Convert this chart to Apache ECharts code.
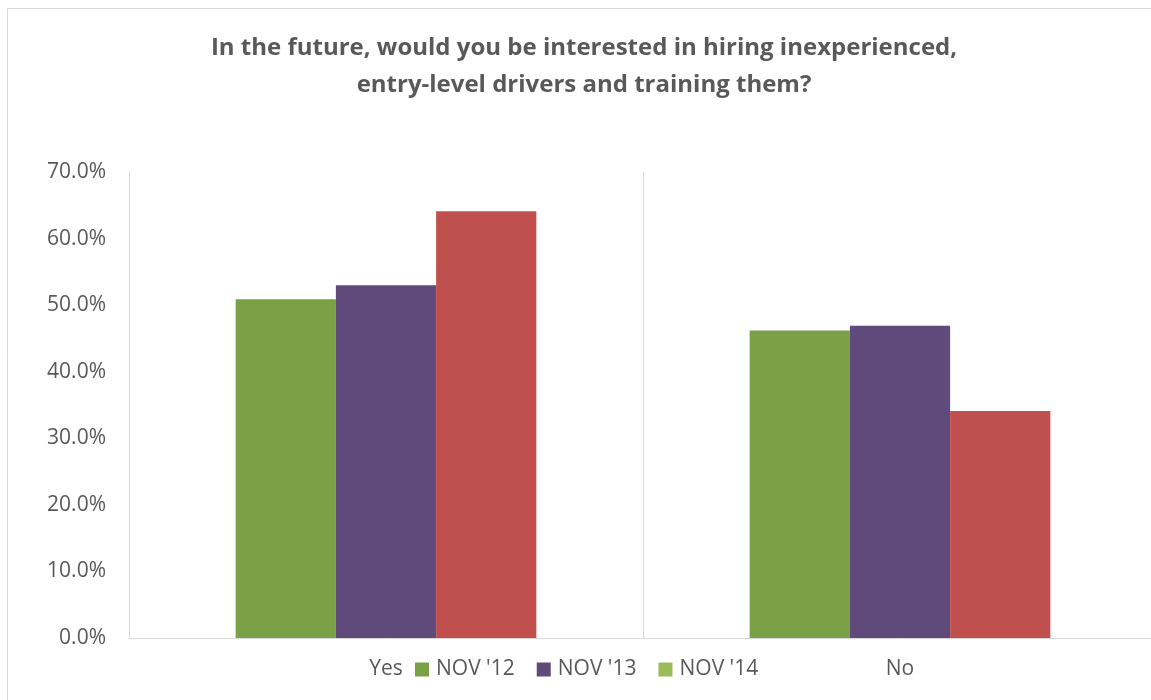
<!DOCTYPE html>
<html>
<head>
<meta charset="utf-8">
<script src="https://cdn.jsdelivr.net/npm/echarts@6/dist/echarts.min.js"></script>
<style>
  html, body { margin: 0; padding: 0; background: #fff; }
  #chart { width: 1151px; height: 700px; }
</style>
</head>
<body>
<div id="chart"></div>
<script>
const titleLines = ['In the future, would you be interested in hiring inexperienced,', 'entry-level drivers and training them?'];
const categories = ['Yes', 'No'];
const seriesNames = ["NOV '12", "NOV '13", "NOV '14"];
const nov12 = [50.9, 46.2];
const nov13 = [53.0, 46.9];
const nov14 = [64.1, 34.1];
const barColors = ['#7AA145', '#604A7B', '#C0504D'];
const legendColors = ['#7AA145', '#604A7B', '#9BBB59'];
const yTicks = { min: 0, max: 70, interval: 10 };

const FONT = '"Open Sans", sans-serif';
const TEXT = '#595959';

const chart = echarts.init(document.getElementById('chart'), null, { renderer: 'canvas' });

const values = [nov12, nov13, nov14];

chart.setOption({
  animation: false,
  backgroundColor: '#fff',
  graphic: [
    {
      type: 'rect',
      shape: { x: 7.5, y: 8.5, width: 1200, height: 800 },
      style: { fill: 'none', stroke: '#D9D9D9', lineWidth: 1 },
      silent: true
    },
    {
      type: 'text',
      x: 584,
      y: 67,
      style: {
        text: titleLines.join('\n'),
        align: 'center',
        verticalAlign: 'middle',
        lineHeight: 37,
        fontFamily: FONT,
        fontWeight: 'bold',
        fontSize: 24,
        fill: TEXT
      }
    }
  ],
  legend: {
    data: seriesNames.map((n, i) => ({ name: n, itemStyle: { color: legendColors[i] } })),
    left: 410,
    top: 654,
    itemWidth: 14,
    itemHeight: 14,
    itemGap: 22,
    icon: 'rect',
    textStyle: { color: TEXT, fontFamily: FONT, fontSize: 21, width: 80, padding: [0, 0, 0, 2] }
  },
  // the plot runs slightly past the right edge of the page
  grid: { left: 129, top: 172, width: 1028, height: 466, containLabel: false, outerBoundsMode: 'none' },
  xAxis: {
    type: 'category',
    data: categories,
    axisLine: { lineStyle: { color: '#D9D9D9', width: 1 } },
    axisTick: { show: false },
    splitLine: { show: true, lineStyle: { color: '#D9D9D9', width: 1 } },
    axisLabel: { color: TEXT, fontFamily: FONT, fontSize: 21, margin: 21 }
  },
  yAxis: {
    type: 'value',
    min: yTicks.min,
    max: yTicks.max,
    interval: yTicks.interval,
    axisLine: { show: true, lineStyle: { color: '#D9D9D9', width: 1 } },
    axisTick: { show: false },
    splitLine: { show: false },
    axisLabel: {
      color: TEXT, fontFamily: FONT, fontSize: 21, margin: 23,
      formatter: v => v.toFixed(1) + '%'
    }
  },
  series: seriesNames.map((n, i) => ({
    name: n,
    type: 'bar',
    data: values[i],
    barGap: '0%',
    barCategoryGap: '41.5%',
    itemStyle: { color: barColors[i] }
  }))
});
</script>
</body>
</html>
